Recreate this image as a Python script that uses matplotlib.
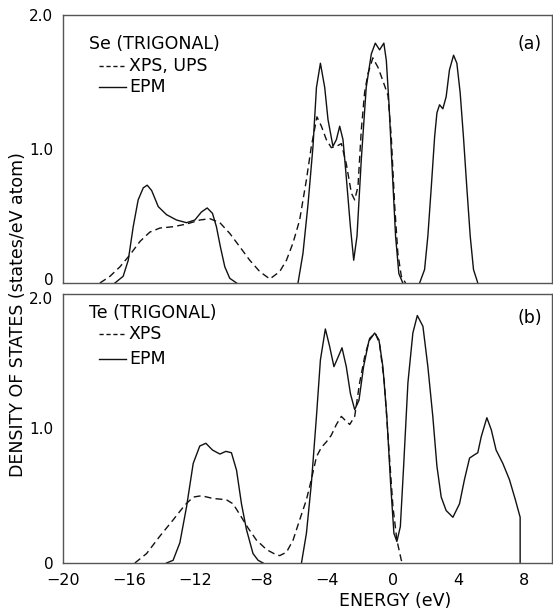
import matplotlib
matplotlib.use("Agg")
import matplotlib.pyplot as plt
import matplotlib.transforms as mtransforms

# ---------------- data: panel (a) Se ----------------
se_epm_low_E = [-16.85, -16.35, -16.04, -15.74, -15.44, -15.13, -14.89, -14.62, -14.22, -13.72,
                -13.11, -12.5, -12.0, -11.6, -11.25, -10.93, -10.69, -10.45, -10.18, -9.88, -9.47]
se_epm_low_D = [0.0, 0.05, 0.17, 0.42, 0.62, 0.71, 0.73, 0.69, 0.57, 0.51,
                0.47, 0.45, 0.47, 0.53, 0.56, 0.52, 0.42, 0.27, 0.12, 0.035, 0.0]

se_epm_val_E = [-5.74, -5.44, -5.13, -4.83, -4.62, -4.38, -4.12, -3.92, -3.62, -3.41, -3.21, -3.01,
                -2.81, -2.56, -2.36, -2.16, -1.9, -1.6, -1.29, -1.05, -0.79, -0.53, -0.38, -0.22,
                -0.02, 0.18, 0.38, 0.62]
se_epm_val_D = [0.0, 0.22, 0.59, 1.02, 1.46, 1.64, 1.46, 1.22, 1.02, 1.07, 1.17, 1.07,
                0.79, 0.42, 0.17, 0.35, 0.92, 1.46, 1.71, 1.79, 1.74, 1.79, 1.66, 1.34,
                0.84, 0.35, 0.07, 0.0]

se_epm_cond_E = [1.64, 1.94, 2.14, 2.35, 2.55, 2.69, 2.85, 3.05, 3.25, 3.45, 3.7, 3.9, 4.1, 4.3,
                 4.5, 4.71, 4.91, 5.17]
se_epm_cond_D = [0.0, 0.10, 0.35, 0.72, 1.09, 1.27, 1.33, 1.30, 1.39, 1.59, 1.70, 1.64, 1.42, 1.09,
                 0.72, 0.35, 0.10, 0.0]

se_xps_E = [-17.76, -17.15, -16.55, -15.94, -15.33, -14.73, -14.12, -13.32, -12.5, -11.7, -11.09,
            -10.48, -9.88, -9.27, -8.67, -8.06, -7.45, -6.85, -6.44, -6.04, -5.64, -5.23, -4.93,
            -4.59, -4.32, -4.02, -3.72, -3.41, -3.11, -2.81, -2.5, -2.3, -2.1, -1.9, -1.7, -1.5,
            -1.2, -0.89, -0.59, -0.28, -0.08, 0.12, 0.32, 0.53, 0.79]
se_xps_D = [0.0, 0.05, 0.12, 0.21, 0.31, 0.38, 0.41, 0.42, 0.44, 0.47, 0.48,
            0.45, 0.37, 0.27, 0.17, 0.085, 0.03, 0.085, 0.17, 0.30, 0.47, 0.77, 1.02,
            1.24, 1.17, 1.07, 1.01, 1.02, 1.04, 0.89, 0.67, 0.62, 0.72, 1.14, 1.42, 1.56,
            1.68, 1.61, 1.51, 1.40, 1.09, 0.59, 0.22, 0.05, 0.0]

# ---------------- data: panel (b) Te ----------------
te_epm_low_E = [-13.72, -13.32, -12.91, -12.5, -12.1, -11.7, -11.33, -10.93, -10.48, -10.12,
                -9.78, -9.47, -9.17, -8.87, -8.47, -8.16, -7.86]
te_epm_low_D = [0.0, 0.02, 0.15, 0.42, 0.74, 0.87, 0.89, 0.84, 0.81, 0.83,
                0.82, 0.69, 0.44, 0.25, 0.07, 0.02, 0.0]

te_epm_E = [-5.53, -5.23, -4.93, -4.62, -4.38, -4.08, -3.82, -3.56, -3.31, -3.07, -2.81, -2.56,
            -2.3, -2.04, -1.76, -1.44, -1.09, -0.83, -0.59, -0.35, -0.12, 0.08, 0.26, 0.47,
            0.67, 0.93, 1.23, 1.5, 1.84, 2.14, 2.44, 2.69, 2.95, 3.25, 3.66, 4.06, 4.36, 4.67,
            4.91, 5.17, 5.38, 5.72, 5.99, 6.28, 6.69, 7.09, 7.45, 7.74, 7.74]
te_epm_D = [0.0, 0.22, 0.59, 1.09, 1.51, 1.74, 1.61, 1.46, 1.53, 1.60, 1.46, 1.26,
            1.14, 1.21, 1.46, 1.65, 1.71, 1.66, 1.46, 1.09, 0.59, 0.22, 0.16, 0.27,
            0.72, 1.34, 1.71, 1.84, 1.76, 1.46, 1.09, 0.72, 0.49, 0.39, 0.34, 0.44, 0.62, 0.78,
            0.80, 0.82, 0.94, 1.08, 0.99, 0.84, 0.74, 0.62, 0.47, 0.34, 0.0]

te_xps_E = [-15.64, -14.93, -14.12, -13.32, -12.61, -12.1, -11.6, -10.9, -10.08, -9.68, -9.27,
            -8.77, -8.26, -7.65, -7.05, -6.85, -6.44, -6.04, -5.64, -5.23, -4.93, -4.62, -4.32,
            -4.02, -3.72, -3.41, -3.11, -2.87, -2.6, -2.3, -2.0, -1.7, -1.39, -1.05, -0.79,
            -0.5, -0.22, 0.02, 0.26, 0.53, 0.62]
te_xps_D = [0.0, 0.07, 0.20, 0.32, 0.43, 0.49, 0.50, 0.48, 0.47, 0.44, 0.36,
            0.26, 0.17, 0.10, 0.06, 0.055, 0.08, 0.17, 0.32, 0.47, 0.62, 0.79, 0.86,
            0.90, 0.95, 1.03, 1.09, 1.06, 1.03, 1.09, 1.34, 1.53, 1.67, 1.71, 1.63,
            1.34, 0.84, 0.42, 0.17, 0.02, 0.0]

x_ticks = [-20, -16, -12, -8, -4, 0, 4, 8]
x_tick_labels = ["\u221220", "\u221216", "\u221212", "\u22128", "\u22124", "0", "4", "8"]
y_ticks = [0, 1.0, 2.0]
y_tick_labels = ["0", "1.0", "2.0"]

plt.rcParams['font.family'] = ['DejaVu Sans']

fig = plt.figure(figsize=(5.53, 6.15), dpi=100)
W, H = 553, 615
ax_a = fig.add_axes([63 / W, 1 - 283 / H, 1 - 63 / W - 0.001, (283 - 15) / H])
ax_b = fig.add_axes([63 / W, 1 - 563 / H, 1 - 63 / W - 0.001, (563 - 294) / H])

dash = (0, (5, 3))
lw = 1.0
col = "#111111"

def style(ax):
    ax.set_xlim(-20, 9.7)
    ax.set_ylim(0, 2.0)
    ax.set_yticks(y_ticks)
    ax.set_yticklabels(y_tick_labels, fontsize=11)
    ax.set_xticks(x_ticks)
    ax.tick_params(length=0, pad=7)
    for s in ax.spines.values():
        s.set_color("#555555")
        s.set_linewidth(1.0)

style(ax_a)
style(ax_b)
ax_a.set_xticklabels([])
ax_b.set_xticklabels(x_tick_labels, fontsize=11.5)

# nudge the touching tick labels apart ("0" of (a) up, "2.0" of (b) down)
up = mtransforms.ScaledTranslation(0, 3 / 72, fig.dpi_scale_trans)
down = mtransforms.ScaledTranslation(0, -3 / 72, fig.dpi_scale_trans)
lab_a0 = ax_a.get_yticklabels()[0]
lab_a0.set_transform(lab_a0.get_transform() + up)
lab_b2 = ax_b.get_yticklabels()[2]
lab_b2.set_transform(lab_b2.get_transform() + down)

# panel (a)
ax_a.plot(se_epm_low_E, se_epm_low_D, color=col, lw=lw)
ax_a.plot(se_epm_val_E, se_epm_val_D, color=col, lw=lw)
ax_a.plot(se_epm_cond_E, se_epm_cond_D, color=col, lw=lw)
ax_a.plot(se_xps_E, se_xps_D, color=col, lw=lw, linestyle=dash)

ax_a.text(-18.4, 1.78, "Se (TRIGONAL)", fontsize=12.5, va="center", ha="left")
ax_a.plot([-17.8, -16.2], [1.62, 1.62], color=col, lw=lw, linestyle=(0, (3, 2)))
ax_a.text(-16.0, 1.62, "XPS, UPS", fontsize=12.5, va="center", ha="left")
ax_a.plot([-17.8, -16.2], [1.46, 1.46], color=col, lw=lw)
ax_a.text(-16.0, 1.46, "EPM", fontsize=12.5, va="center", ha="left")
ax_a.text(8.3, 1.78, "(a)", fontsize=12.5, va="center", ha="center")

# panel (b)
ax_b.plot(te_epm_low_E, te_epm_low_D, color=col, lw=lw)
ax_b.plot(te_epm_E, te_epm_D, color=col, lw=lw)
ax_b.plot(te_xps_E, te_xps_D, color=col, lw=lw, linestyle=dash)

ax_b.text(-18.4, 1.86, "Te (TRIGONAL)", fontsize=12.5, va="center", ha="left")
ax_b.plot([-17.8, -16.2], [1.70, 1.70], color=col, lw=lw, linestyle=(0, (3, 2)))
ax_b.text(-16.0, 1.70, "XPS", fontsize=12.5, va="center", ha="left")
ax_b.plot([-17.8, -16.2], [1.52, 1.52], color=col, lw=lw)
ax_b.text(-16.0, 1.52, "EPM", fontsize=12.5, va="center", ha="left")
ax_b.text(8.3, 1.82, "(b)", fontsize=12.5, va="center", ha="center")

fig.text(18 / W, 1 - 315 / H, "DENSITY OF STATES (states/eV atom)", rotation=90,
         fontsize=12.5, ha="center", va="center")
fig.text(395 / W, 1 - 601 / H, "ENERGY (eV)", fontsize=12.5, ha="center", va="center")

fig.savefig("out.png", dpi=100)
